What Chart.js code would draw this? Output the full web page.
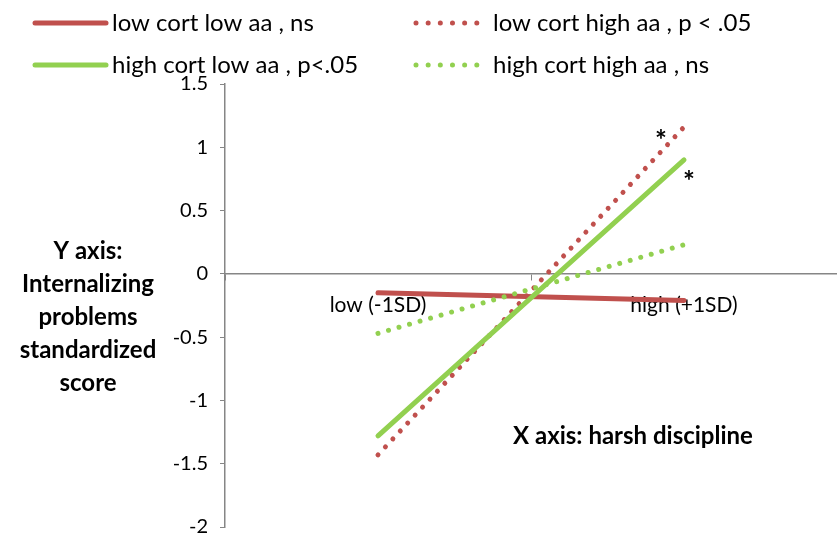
<!DOCTYPE html>
<html lang="en">
<head>
    <meta charset="UTF-8">
    <title>Internalizing problems by harsh discipline</title>
    <script src="https://cdn.jsdelivr.net/npm/chart.js"></script>
    <style>
        body { margin: 0; background: #fff; }
        #chart { display: block; }
    </style>
</head>
<body>
    <canvas id="chart" width="837" height="535"></canvas>
    <script>
        // values
        const categories = ['low (-1SD)', 'high (+1SD)'];
        const seriesNames = [
            'low cort low aa , ns',
            'low cort high aa , p < .05',
            'high cort low aa , p<.05',
            'high cort high aa , ns'
        ];
        const lowCortLowAa = [-0.15, -0.21];
        const lowCortHighAa = [-1.43, 1.16];
        const highCortLowAa = [-1.28, 0.90];
        const highCortHighAa = [-0.47, 0.23];
        const yTitleLines = ['Y axis:', 'Internalizing', 'problems', 'standardized', 'score'];
        const xTitle = 'X axis: harsh discipline';

        const RED = '#C0504D';
        const GREEN = '#92D050';
        const AXIS = '#868686';
        const FONT = 'Lato';

        // gap sized so a dot lands near both ends of the line
        function makeSet(label, data, color, gap, order) {
            return {
                label: label,
                data: data,
                borderColor: color,
                backgroundColor: color,
                borderWidth: 5,
                borderDash: gap ? [0.01, gap] : [],
                borderCapStyle: 'round',
                pointRadius: 0,
                tension: 0,
                order: order
            };
        }

        const extras = {
            id: 'extras',
            afterDraw(chart) {
                const ctx = chart.ctx;
                const x = chart.scales.x;
                const y = chart.scales.y;
                ctx.save();
                ctx.fillStyle = '#000';

                // legend, two rows by two columns
                const items = [
                    { x: 35, y: 23, w: 71, set: 0 },
                    { x: 416, y: 23, w: 61, set: 1 },
                    { x: 35, y: 65, w: 71, set: 2 },
                    { x: 416, y: 65, w: 61, set: 3 }
                ];
                ctx.font = '24px ' + FONT;
                ctx.textBaseline = 'middle';
                ctx.textAlign = 'left';
                items.forEach(it => {
                    const ds = chart.data.datasets[it.set];
                    ctx.strokeStyle = ds.borderColor;
                    ctx.lineWidth = 5;
                    ctx.lineCap = 'round';
                    ctx.setLineDash(ds.borderDash.length ? [0.01, 12.15] : []);
                    ctx.beginPath();
                    ctx.moveTo(it.x, it.y);
                    ctx.lineTo(it.x + it.w, it.y);
                    ctx.stroke();
                    ctx.setLineDash([]);
                    ctx.fillText(ds.label, it.x + it.w + (ds.borderDash.length ? 16 : 6), it.y);
                });

                // y axis title
                ctx.font = 'bold 24px ' + FONT;
                ctx.textAlign = 'center';
                yTitleLines.forEach((line, i) => {
                    ctx.fillText(line, 88, 251 + i * 33);
                });

                // x axis title
                ctx.fillText(xTitle, 633, 436);

                // significance marks
                ctx.font = 'bold 28px ' + FONT;
                const hx = x.getPixelForValue(1);
                ctx.fillText('*', hx - 23, y.getPixelForValue(lowCortHighAa[1]) + 14);
                ctx.fillText('*', hx + 5, y.getPixelForValue(highCortLowAa[1]) + 22);
                ctx.restore();
            }
        };

        new Chart(document.getElementById('chart'), {
            type: 'line',
            data: {
                labels: categories,
                datasets: [
                    makeSet(seriesNames[0], lowCortLowAa, RED, 0, 4),
                    makeSet(seriesNames[1], lowCortHighAa, RED, 10.87, 3),
                    makeSet(seriesNames[2], highCortLowAa, GREEN, 0, 2),
                    makeSet(seriesNames[3], highCortHighAa, GREEN, 10.93, 1)
                ]
            },
            options: {
                responsive: false,
                animation: false,
                layout: {
                    autoPadding: false,
                    padding: { top: 84, bottom: 8, left: 0, right: 0 }
                },
                plugins: {
                    legend: { display: false },
                    tooltip: { enabled: false }
                },
                scales: {
                    x: {
                        type: 'category',
                        position: { y: 0 },
                        offset: true,
                        afterFit(scale) {
                            scale.height = 0;
                            scale.paddingLeft = 0;
                            scale.paddingRight = 0;
                        },
                        grid: {
                            offset: true,
                            drawOnChartArea: false,
                            drawTicks: true,
                            tickLength: 6,
                            tickColor: AXIS
                        },
                        border: { color: AXIS, width: 1.5 },
                        ticks: {
                            color: '#000',
                            padding: 13,
                            maxRotation: 0,
                            font: { family: FONT, size: 21 }
                        }
                    },
                    y: {
                        min: -2,
                        max: 1.5,
                        afterFit(scale) {
                            scale.width = 225;
                            scale.paddingTop = 0;
                            scale.paddingBottom = 0;
                        },
                        grid: {
                            drawOnChartArea: false,
                            drawTicks: true,
                            tickLength: 5,
                            tickColor: AXIS
                        },
                        border: { color: AXIS, width: 1.5 },
                        ticks: {
                            stepSize: 0.5,
                            color: '#000',
                            padding: 12,
                            font: { family: FONT, size: 20 },
                            callback: value => String(value)
                        }
                    }
                }
            },
            plugins: [extras]
        });
    </script>
</body>
</html>
